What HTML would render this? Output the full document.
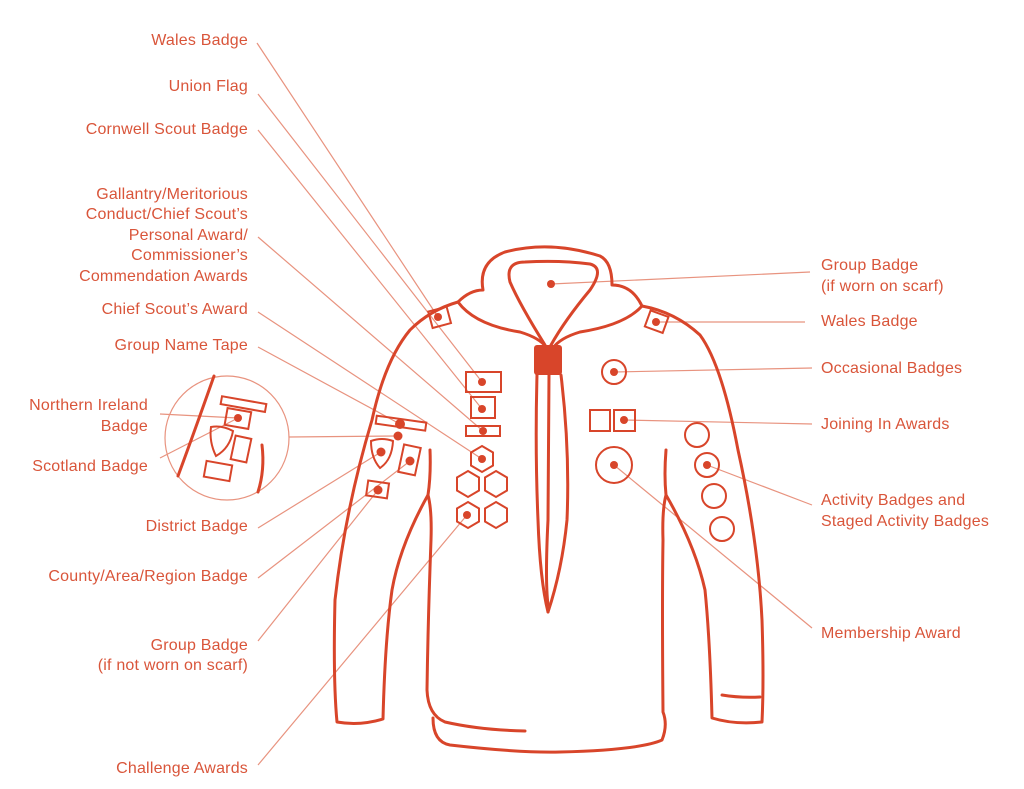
<!DOCTYPE html>
<html><head><meta charset="utf-8"><style>
html,body{margin:0;padding:0;background:#fff;}
svg{display:block}
text{font-family:"Liberation Sans",sans-serif;font-size:16px;fill:#d9553a;letter-spacing:0.2px}
.l{stroke:#e8937f;stroke-width:1.2;fill:none}
.s{stroke:#d8452a;stroke-width:3;fill:none;stroke-linecap:round;stroke-linejoin:round}
.b{stroke:#d8452a;stroke-width:2;fill:none}
.d{fill:#d8452a}
</style></head><body>
<svg width="1024" height="789" viewBox="0 0 1024 789">
<g class="l">
<line x1="257" y1="43" x2="438" y2="317"/>
<line x1="258" y1="94" x2="482" y2="382"/>
<line x1="258" y1="130" x2="482" y2="409"/>
<line x1="258" y1="237" x2="483" y2="431"/>
<line x1="258" y1="312" x2="482" y2="459"/>
<line x1="258" y1="347" x2="400" y2="424"/>
<line x1="160" y1="414" x2="238" y2="418"/>
<line x1="160" y1="458" x2="238" y2="418"/>
<line x1="289" y1="437" x2="398" y2="436"/>
<line x1="258" y1="528" x2="381" y2="452"/>
<line x1="258" y1="578" x2="410" y2="461"/>
<line x1="258" y1="641" x2="378" y2="490"/>
<line x1="258" y1="765" x2="467" y2="515"/>
<line x1="810" y1="272" x2="551" y2="284"/>
<line x1="805" y1="322" x2="655" y2="322"/>
<line x1="812" y1="368" x2="614" y2="372"/>
<line x1="812" y1="424" x2="624" y2="420"/>
<line x1="812" y1="505" x2="707" y2="465"/>
<line x1="812" y1="628" x2="614" y2="465"/>
<circle cx="227" cy="438" r="62"/>
</g>
<g class="s">
<path d="M458,302 Q470,290 483,290 Q478,262 505,252 Q550,240 600,256 Q612,262 612,285 Q632,285 642,306"/>
<path d="M458,302 Q475,325 520,332 Q540,338 547,348"/>
<path d="M642,306 Q625,325 580,332 Q560,338 553,348"/>
<path d="M545,345 Q520,305 510,282 Q505,262 525,262 Q560,260 590,264 Q605,268 590,290 Q565,320 551,345"/>
<path d="M537,375 Q535,450 538,520 Q540,580 548,612"/>
<path d="M561,375 Q570,450 567,520 Q562,570 548,612"/>
<path d="M549,375 Q548,480 548,520 Q545,580 548,605"/>
<!-- left arm -->
<path d="M458,302 Q430,310 410,330 Q385,360 372,420 Q345,510 335,600 Q333,680 337,722 Q360,726 383,719 Q385,640 392,590 Q400,545 428,495"/>
<path d="M430,450 Q431,475 428,495 Q432,510 431,540 Q428,620 427,690 Q428,715 445,722 Q480,730 525,731"/>
<path d="M433,718 Q433,742 450,745 Q520,753 560,752 Q640,750 662,740 Q668,725 663,712 Q662,600 663,540 Q662,510 666,495"/>
<path d="M666,450 Q664,475 666,495 Q695,545 705,590 Q710,640 712,718 Q735,725 762,722 Q764,680 762,620 Q758,540 738,450 Q722,365 700,335 Q675,312 642,306"/>
<path d="M722,695 Q740,698 760,697"/>
</g>
<rect x="534" y="345" width="28" height="30" rx="3" class="d"/>
<g class="b">
<rect x="430" y="309" width="19" height="17" transform="rotate(-15 439 317)"/>
<rect x="647" y="313" width="19" height="17" transform="rotate(20 656 322)"/>
<rect x="466" y="372" width="35" height="20"/>
<rect x="471" y="397" width="24" height="21"/>
<rect x="466" y="426" width="34" height="10"/>
<polygon points="482,446 493,452.5 493,465.5 482,472 471,465.5 471,452.5"/>
<polygon points="468,471 479,477.5 479,490.5 468,497 457,490.5 457,477.5"/>
<polygon points="496,471 507,477.5 507,490.5 496,497 485,490.5 485,477.5"/>
<polygon points="468,502 479,508.5 479,521.5 468,528 457,521.5 457,508.5"/>
<polygon points="496,502 507,508.5 507,521.5 496,528 485,521.5 485,508.5"/>
<rect x="376" y="419" width="50" height="8" transform="rotate(8 400 423)"/>
<path d="M371,441 Q382,437 393,441 Q392,460 380,468 Q371,458 371,441Z"/>
<rect x="401" y="446" width="17" height="28" transform="rotate(12 410 460)"/>
<rect x="367" y="482" width="21" height="15" transform="rotate(8 378 490)"/>
<circle cx="614" cy="372" r="12"/>
<rect x="590" y="410" width="20" height="21"/>
<rect x="614" y="410" width="21" height="21"/>
<circle cx="614" cy="465" r="18"/>
<circle cx="697" cy="435" r="12"/>
<circle cx="707" cy="465" r="12"/>
<circle cx="714" cy="496" r="12"/>
<circle cx="722" cy="529" r="12"/>
<rect x="221" y="400" width="45" height="8" transform="rotate(10 243 404)"/>
<rect x="226" y="410" width="24" height="17" transform="rotate(10 238 418)"/>
<path d="M211,427 Q222,425 233,431 Q230,448 216,456 Q209,442 211,427Z"/>
<rect x="233" y="437" width="16" height="24" transform="rotate(12 241 449)"/>
<rect x="205" y="463" width="26" height="16" transform="rotate(10 218 471)"/>
</g>
<g class="s">
<path d="M214,376 Q195,430 178,476"/>
<path d="M262,445 Q265,470 258,492"/>
</g>
<g class="d">
<circle cx="438" cy="317" r="4"/><circle cx="656" cy="322" r="4"/>
<circle cx="551" cy="284" r="4"/>
<circle cx="482" cy="382" r="4"/><circle cx="482" cy="409" r="4"/><circle cx="483" cy="431" r="4"/>
<circle cx="482" cy="459" r="4"/><circle cx="467" cy="515" r="4"/>
<circle cx="400" cy="424" r="5"/><circle cx="398" cy="436" r="4.5"/>
<circle cx="381" cy="452" r="4.5"/><circle cx="410" cy="461" r="4.5"/><circle cx="378" cy="490" r="4.5"/>
<circle cx="614" cy="372" r="4"/><circle cx="624" cy="420" r="4"/><circle cx="614" cy="465" r="4"/><circle cx="707" cy="465" r="4"/>
<circle cx="238" cy="418" r="4"/>
</g>
<g text-anchor="end">
<text x="248" y="45">Wales Badge</text>
<text x="248" y="91">Union Flag</text>
<text x="248" y="134">Cornwell Scout Badge</text>
<text x="248" y="199">Gallantry/Meritorious</text>
<text x="248" y="219">Conduct/Chief Scout’s</text>
<text x="248" y="240">Personal Award/</text>
<text x="248" y="260">Commissioner’s</text>
<text x="248" y="281">Commendation Awards</text>
<text x="248" y="314">Chief Scout’s Award</text>
<text x="248" y="350">Group Name Tape</text>
<text x="148" y="410">Northern Ireland</text>
<text x="148" y="431">Badge</text>
<text x="148" y="471">Scotland Badge</text>
<text x="248" y="531">District Badge</text>
<text x="248" y="581">County/Area/Region Badge</text>
<text x="248" y="650">Group Badge</text>
<text x="248" y="670">(if not worn on scarf)</text>
<text x="248" y="773">Challenge Awards</text>
</g>
<g>
<text x="821" y="270">Group Badge</text>
<text x="821" y="291">(if worn on scarf)</text>
<text x="821" y="326">Wales Badge</text>
<text x="821" y="373">Occasional Badges</text>
<text x="821" y="429">Joining In Awards</text>
<text x="821" y="505">Activity Badges and</text>
<text x="821" y="526">Staged Activity Badges</text>
<text x="821" y="638">Membership Award</text>
</g>
</svg>
</body></html>
